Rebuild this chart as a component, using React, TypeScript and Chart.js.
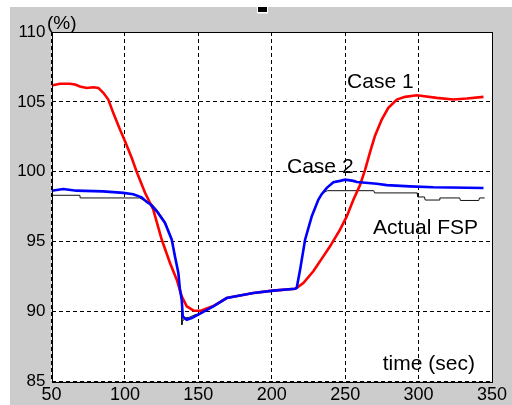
import React, { useEffect, useRef } from "react";
import { Chart, registerables } from "chart.js";

Chart.register(...registerables);

// Case 1 (red)
const case1T = [50, 55.8, 62.6, 66, 69.4, 74, 78.5, 81.9, 85.3, 88.7, 92.1, 96.7, 100, 104.6, 108, 113.7, 119.3, 125.1, 130.7, 135.3, 138.7, 142.1, 146.6, 151.2, 160.2, 169.3, 187.5, 201, 215.9, 217, 221.5, 228.3, 235.1, 239.7, 246.5, 251.1, 255.6, 260.2, 263.6, 266.8, 270.2, 274.9, 279.4, 285.2, 290.8, 298.8, 312.4, 323.7, 332.8, 344.2];
const case1V = [106.17, 106.3, 106.3, 106.24, 106.1, 106.0, 106.05, 106.0, 105.65, 105.17, 104.2, 103.0, 102.2, 101.0, 100.0, 98.5, 97.3, 95.14, 93.48, 92.28, 91.09, 90.37, 90.08, 90.05, 90.4, 90.97, 91.33, 91.5, 91.64, 91.7, 92.04, 92.88, 93.95, 94.67, 95.86, 96.81, 98.0, 99.08, 100.16, 101.35, 102.54, 103.74, 104.57, 105.17, 105.36, 105.48, 105.29, 105.17, 105.24, 105.36];

// Case 2 (blue)
const case2T = [50, 58, 67, 85, 99, 105.7, 111.4, 114.9, 117, 121.7, 127.3, 131.9, 134.1, 136.4, 137.5, 138.7, 139.4, 142.1, 145.5, 151.2, 160.2, 169.3, 187.5, 201, 215.9, 217, 219.3, 222.7, 227.2, 231.7, 234, 237.5, 242, 246.5, 250, 255.6, 258, 271.5, 278.3, 294, 310, 344.2];
const case2V = [98.65, 98.77, 98.65, 98.6, 98.49, 98.4, 98.17, 97.85, 97.7, 97.17, 96.34, 95.14, 93.95, 92.76, 91.56, 90.85, 89.65, 89.42, 89.54, 89.85, 90.37, 90.97, 91.33, 91.5, 91.64, 91.7, 93.0, 95.14, 96.8, 98.0, 98.4, 98.85, 99.25, 99.35, 99.44, 99.35, 99.27, 99.15, 99.05, 98.96, 98.89, 98.84];

// Actual FSP (black)
const fspT = [50, 69.4, 69.5, 110, 113, 117, 121.7, 127.3, 131.9, 134.1, 136.4, 137.5, 138.5, 138.8, 139.2, 141, 144, 147.8, 151.2, 160.2, 169.3, 187.5, 201, 215.9, 217, 219.3, 222.7, 227.2, 231.7, 235, 238, 269.5, 270, 299, 299.5, 304, 304.5, 314, 314.5, 328, 328.5, 341, 341.5, 345];
const fspV = [98.32, 98.32, 98.13, 98.13, 97.95, 97.85, 97.3, 96.45, 95.25, 94.0, 92.8, 91.6, 90.8, 89.06, 89.3, 89.54, 89.6, 89.78, 89.87, 90.37, 90.97, 91.33, 91.5, 91.64, 91.7, 93.0, 95.14, 96.8, 98.0, 98.5, 98.65, 98.65, 98.49, 98.49, 98.2, 98.2, 97.98, 97.98, 98.13, 98.13, 97.95, 97.95, 98.13, 98.13];

const xTicks = [50, 100, 150, 200, 250, 300, 350];
const yTicks = [85, 90, 95, 100, 105, 110];

const annotations = [
  { text: "Case 1", x: 251.3, y: 106.03 },
  { text: "Case 2", x: 210.4, y: 99.94 },
  { text: "Actual FSP", x: 269, y: 95.57 },
  { text: "time (sec)", x: 275.6, y: 85.79 },
  { text: "(%)", x: 46.9, y: 110.2 },
];

const FONT = "'Liberation Sans', Arial, sans-serif";

function pts(t: number[], v: number[]) {
  return t.map((x, i) => ({ x, y: v[i] }));
}

const bgPlugin = {
  id: "bgPlugin",
  beforeDraw(chart: any) {
    const { ctx, chartArea, width, height } = chart;
    ctx.save();
    ctx.fillStyle = "#ffffff";
    ctx.fillRect(0, 0, width, height);
    ctx.fillStyle = "#cccccc";
    ctx.fillRect(10, 7, width - 10, height - 7);
    ctx.fillStyle = "#ffffff";
    ctx.fillRect(257, 5.5, 11, 8);
    ctx.fillStyle = "#000000";
    ctx.fillRect(258, 7, 9, 5);
    ctx.fillStyle = "#ffffff";
    ctx.fillRect(chartArea.left, chartArea.top, chartArea.right - chartArea.left, chartArea.bottom - chartArea.top);
    ctx.restore();
  },
  afterDatasetsDraw(chart: any) {
    const { ctx, chartArea, scales } = chart;
    ctx.save();
    ctx.strokeStyle = "#000000";
    ctx.lineWidth = 1;
    const l = Math.round(chartArea.left) + 0.5;
    const t = Math.round(chartArea.top) + 0.5;
    const r = Math.round(chartArea.right) + 0.5;
    const b = Math.round(chartArea.bottom) + 0.5;
    ctx.strokeRect(l, t, r - l, b - t);
    ctx.fillStyle = "#000000";
    ctx.textBaseline = "alphabetic";
    ctx.textAlign = "left";
    for (const a of annotations) {
      ctx.font = a.text === "(%)" ? `19px ${FONT}` : `21px ${FONT}`;
      const px = scales.x.getPixelForValue(a.x);
      const py = scales.y.getPixelForValue(a.y);
      ctx.fillText(a.text, px, py);
    }
    ctx.restore();
  },
};

export default function App() {
  const ref = useRef<HTMLCanvasElement | null>(null);
  useEffect(() => {
    document.body.style.margin = "0";
    const chart = new Chart(ref.current as HTMLCanvasElement, {
      type: "scatter",
      data: {
        datasets: [
          {
            label: "Case 2",
            data: pts(case2T, case2V),
            showLine: true,
            borderColor: "#0000ff",
            borderWidth: 2.6,
            pointRadius: 0,
            tension: 0,
          },
          {
            label: "Case 1",
            data: pts(case1T, case1V),
            showLine: true,
            borderColor: "#ff0000",
            borderWidth: 2.6,
            pointRadius: 0,
            tension: 0,
          },
          {
            label: "Actual FSP",
            data: pts(fspT, fspV),
            showLine: true,
            borderColor: "#111111",
            borderWidth: 1,
            pointRadius: 0,
            tension: 0,
          },
        ],
      },
      options: {
        animation: false,
        responsive: false,
        maintainAspectRatio: false,
        layout: { padding: { left: 0, top: 32, right: 20, bottom: 0 } },
        plugins: { legend: { display: false }, tooltip: { enabled: false } },
        scales: {
          x: {
            type: "linear",
            min: 50,
            max: 350,
            afterBuildTicks: (s: any) => {
              s.ticks = xTicks.map((v) => ({ value: v }));
            },
            afterFit: (s: any) => {
              s.height = 23.5;
            },
            ticks: {
              color: "#000000",
              font: { family: FONT, size: 18 },
              padding: 3,
              maxRotation: 0,
              autoSkip: false,
            },
            grid: { color: "#000000", lineWidth: 1, drawTicks: false },
            border: { display: false, dash: [4, 3] },
          },
          y: {
            type: "linear",
            min: 85,
            max: 110,
            afterBuildTicks: (s: any) => {
              s.ticks = yTicks.map((v) => ({ value: v }));
            },
            afterFit: (s: any) => {
              s.width = 51.5;
            },
            ticks: {
              color: "#000000",
              font: { family: FONT, size: 17 },
              padding: 6,
              autoSkip: false,
            },
            grid: { color: "#000000", lineWidth: 1, drawTicks: false },
            border: { display: false, dash: [4, 3] },
          },
        },
      },
      plugins: [bgPlugin],
    });
    return () => chart.destroy();
  }, []);
  return (
    <div style={{ position: "absolute", left: 0, top: 0, width: 512, height: 405 }}>
      <canvas ref={ref} width={512} height={405} style={{ display: "block" }} />
    </div>
  );
}
